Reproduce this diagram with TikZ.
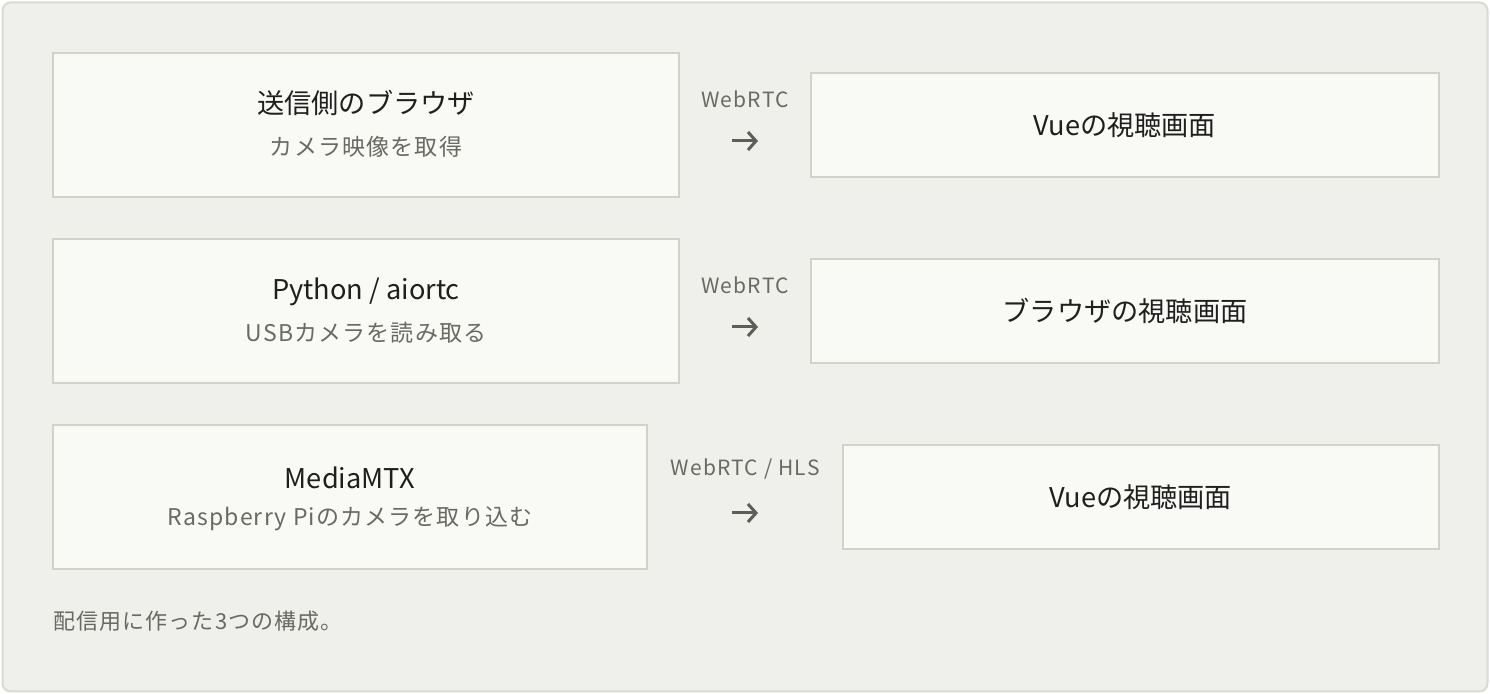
\documentclass[tikz,border=0pt]{standalone}
\usepackage{fontspec}
\setmainfont{Noto Sans CJK JP}
\usetikzlibrary{arrows.meta}
\definecolor{panel}{HTML}{EFEFEB}
\definecolor{panelline}{HTML}{DADAD4}
\definecolor{boxfill}{HTML}{F9FAF6}
\definecolor{boxline}{HTML}{D2D2CA}
\definecolor{ink}{HTML}{1F1F1F}
\definecolor{muted}{HTML}{6A6A65}
\definecolor{arrowc}{HTML}{5E5E59}

\begin{document}
\begin{tikzpicture}[x=0.5pt, y=-0.5pt,
		box/.style={draw=boxline, line width=1pt, fill=boxfill, inner sep=0pt},
		boxtitle/.style={text=ink, font=\fontsize{13.6}{16}\selectfont},
		boxsub/.style={text=muted, font=\fontsize{11.5}{13}\selectfont\addfontfeature{LetterSpace=5}},
		caption/.style={text=muted, font=\fontsize{11}{13}\selectfont\addfontfeature{LetterSpace=5}},
		proto/.style={text=muted, font=\fontsize{10.5}{12}\selectfont\addfontfeature{LetterSpace=6}},
		flow/.style={draw=arrowc, line width=1.5pt, -{Straight Barb[length=4pt, width=9pt]}}]
		\useasboundingbox (0, 0) rectangle (1490, 694);
		\draw[panelline, fill=panel, line width=1pt, rounded corners=4pt] (2.5, 2.5) rectangle (1487.5, 691.5);

		% browser -> vue
		\node[box, minimum width=313pt, minimum height=72pt] (browser) at (366, 125) {};
		\node[boxtitle] (browser_t) at (366, 103) {送信側のブラウザ};
		\node[boxsub] (browser_s) at (366, 147) {カメラ映像を取得};
		\node[box, minimum width=314pt, minimum height=52pt, boxtitle] (vue_a) at (1125, 125) {Vueの視聴画面};
		\node[proto] (proto_a) at (745, 99) {WebRTC};
		\coordinate (from_a) at (732, 141);
		\coordinate (to_a) at (758, 141);
		\draw[flow] (from_a) -- (to_a);

		% aiortc -> browser
		\node[box, minimum width=313pt, minimum height=72pt] (aiortc) at (366, 311) {};
		\node[boxtitle] (aiortc_t) at (366, 292) {Python / aiortc};
		\node[boxsub] (aiortc_s) at (366, 333) {USBカメラを読み取る};
		\node[box, minimum width=314pt, minimum height=52pt, boxtitle] (viewer) at (1125, 311) {ブラウザの視聴画面};
		\node[proto] (proto_b) at (745, 285) {WebRTC};
		\coordinate (from_b) at (732, 327);
		\coordinate (to_b) at (758, 327);
		\draw[flow] (from_b) -- (to_b);

		% mediamtx -> vue
		\node[box, minimum width=297pt, minimum height=72pt] (mtx) at (350, 497) {};
		\node[boxtitle] (mtx_t) at (350, 478) {MediaMTX};
		\node[boxsub] (mtx_s) at (350, 519) {Raspberry Piのカメラを取り込む};
		\node[box, minimum width=298pt, minimum height=52pt, boxtitle] (vue_c) at (1141, 497) {Vueの視聴画面};
		\node[proto] (proto_c) at (745, 469) {WebRTC / HLS};
		\coordinate (from_c) at (732, 513);
		\coordinate (to_c) at (758, 513);
		\draw[flow] (from_c) -- (to_c);

		\node[anchor=west, caption, inner xsep=0pt] (note) at (53, 621) {配信用に作った3つの構成。};
	\end{tikzpicture}
\end{document}
